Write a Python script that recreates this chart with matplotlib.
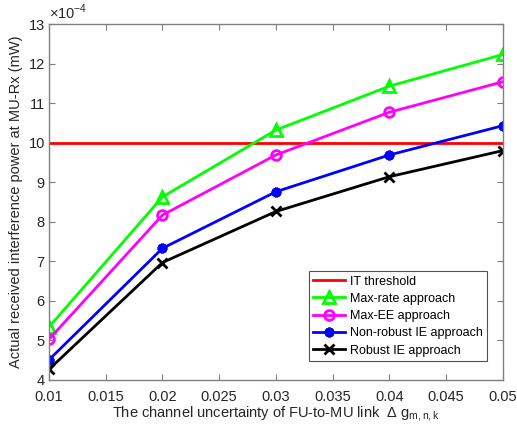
import matplotlib
matplotlib.use("Agg")
import matplotlib.pyplot as plt

plt.rcParams['font.family'] = ['Liberation Sans', 'DejaVu Sans']
plt.rcParams['mathtext.fontset'] = 'custom'
plt.rcParams['mathtext.rm'] = 'Liberation Sans'

delta_g = [0.01, 0.02, 0.03, 0.04, 0.05]
it_threshold = 10.0  # x 1e-4 mW
max_rate = [5.34, 8.63, 10.32, 11.43, 12.23]
max_ee = [5.03, 8.17, 9.69, 10.77, 11.54]
non_robust_ie = [4.51, 7.33, 8.76, 9.69, 10.43]
robust_ie = [4.27, 6.97, 8.26, 9.14, 9.80]

xticks = [0.01, 0.015, 0.02, 0.025, 0.03, 0.035, 0.04, 0.045, 0.05]
xticklabels = ['0.01', '0.015', '0.02', '0.025', '0.03', '0.035', '0.04', '0.045', '0.05']
yticks = list(range(4, 14))

fig = plt.figure(figsize=(5.17, 4.32), dpi=100)
ax = fig.add_axes([0.0948, 0.1204, 0.878, 0.824])

ax.axhline(it_threshold, color='#ff0000', lw=2, label='IT threshold')
ax.plot(delta_g, max_rate, color='#00ff00', lw=2, marker='^', ms=9,
        mfc='none', mew=2, label='Max-rate approach')
ax.plot(delta_g, max_ee, color='#ff00ff', lw=2, marker='o', ms=7,
        mfc='none', mew=2, label='Max-EE approach')
ax.plot(delta_g, non_robust_ie, color='#0000ff', lw=2, marker=(8, 2, 0), ms=7,
        mew=2.2, label='Non-robust IE approach')
ax.plot(delta_g, robust_ie, color='#000000', lw=2, marker='x', ms=7,
        mew=2, label='Robust IE approach')

ax.set_xlim(0.01, 0.05)
ax.set_ylim(4, 13)
ax.set_xticks(xticks)
ax.set_xticklabels(xticklabels)
ax.set_yticks(yticks)

gray = '#262626'
for s in ax.spines.values():
    s.set_color('#808080')
    s.set_linewidth(1)
ax.tick_params(direction='in', top=True, right=True, length=4, width=0.8,
               colors='#808080', labelcolor=gray, labelsize=10.5)
ax.tick_params(axis='x', pad=7)
ax.tick_params(axis='y', pad=3)

ax.text(0.0, 1.005, r'$\times$10$^{-4}$', transform=ax.transAxes,
        ha='left', va='bottom', fontsize=10.5, color=gray)

ax.set_ylabel('Actual received interference power at MU-Rx (mW)',
              fontsize=10.5, color=gray, labelpad=4)
ax.set_xlabel(r'The channel uncertainty of FU-to-MU link  $\Delta$ g$_{\mathrm{m,n,k}}$',
              fontsize=10.5, color=gray, labelpad=1)

leg = ax.legend(loc='lower right', bbox_to_anchor=(0.9648, 0.0534), fontsize=9,
                frameon=True, fancybox=False, edgecolor='#262626',
                handlelength=2.5, borderpad=0.35, labelspacing=0.42,
                handletextpad=0.4, borderaxespad=0)
leg.get_frame().set_linewidth(0.8)
for t in leg.get_texts():
    t.set_color('#000000')

fig.savefig('out.png', dpi=100)
